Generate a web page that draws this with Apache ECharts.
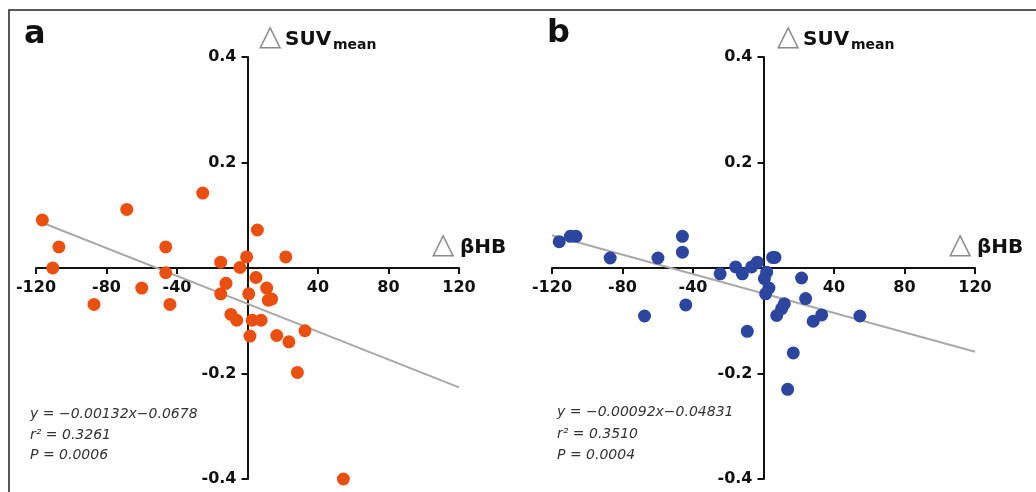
<!DOCTYPE html>
<html>
<head>
<meta charset="utf-8">
<script src="https://cdn.jsdelivr.net/npm/echarts@6/dist/echarts.min.js"></script>
<style>
html,body{margin:0;padding:0;background:#fff;}
#c{width:1036px;height:492px;}
</style>
</head>
<body>
<div id="c"></div>
<script>
// ---- data ----
const panelLabels = ['a', 'b'];
const xTickLabels = [-120, -80, -40, 40, 80, 120];
const yTickLabels = [-0.4, -0.2, 0.2, 0.4];
const yAxisTitle = ['△', 'SUV', 'mean'];
const xAxisTitle = ['△', 'βHB'];

// Panel a (orange): [ΔβHB, ΔSUVmean]
const pointsA = [
  [-116.4, 0.091], [-68.5, 0.111], [-25.4, 0.142], [-107.0, 0.040], [-110.5, 0.000],
  [-46.4, 0.040], [-46.4, -0.009], [-60.0, -0.038], [-87.1, -0.069], [-44.0, -0.069],
  [5.6, 0.072], [-0.5, 0.021], [21.7, 0.021], [-15.2, 0.011], [-4.3, 0.001],
  [4.8, -0.018], [-12.2, -0.029], [-15.2, -0.049], [0.7, -0.049], [10.9, -0.038],
  [11.8, -0.061], [13.7, -0.059], [-9.4, -0.088], [-6.1, -0.099], [2.7, -0.099],
  [7.7, -0.099], [1.4, -0.129], [16.6, -0.128], [23.5, -0.140], [32.6, -0.119],
  [28.3, -0.198], [54.4, -0.400]
];
// Panel b (blue)
const pointsB = [
  [-115.9, 0.050], [-109.6, 0.060], [-106.4, 0.060], [-87.0, 0.019], [-59.9, 0.019],
  [-46.0, 0.060], [-46.0, 0.030], [-24.6, -0.011], [-15.8, 0.002], [-12.0, -0.011],
  [-6.7, 0.002], [-3.5, 0.011], [5.2, 0.020], [6.5, 0.020], [1.8, -0.008],
  [0.5, -0.020], [3.1, -0.038], [1.2, -0.049], [21.6, -0.019], [23.9, -0.058],
  [11.8, -0.068], [10.3, -0.077], [7.5, -0.090], [28.2, -0.101], [33.0, -0.089],
  [54.7, -0.091], [-67.5, -0.091], [-44.1, -0.070], [-9.2, -0.120], [16.9, -0.161],
  [13.7, -0.230]
];
// Regression line end points (from printed equations)
const fitA = [[-120, 0.0906], [120, -0.2262]];
const fitB = [[-120, 0.0621], [120, -0.1587]];
const statsA = ['y = −0.00132x−0.0678', 'r² = 0.3261', 'P = 0.0006'];
const statsB = ['y = −0.00092x−0.04831', 'r² = 0.3510', 'P = 0.0004'];

// ---- chart ----
const chart = echarts.init(document.getElementById('c'));
const TF = 'DejaVu Sans';
const GW = 423, GH = 422;
const grids = [
  {left: 36, top: 57, width: GW, height: GH, containLabel: false, outerBoundsMode: 'none'},
  {left: 552, top: 57, width: GW, height: GH, containLabel: false, outerBoundsMode: 'none'}
];
function xAxisCfg(i) {
  return {
    type: 'value', gridIndex: i, min: -120, max: 120, interval: 40,
    position: 'bottom', offset: -GH / 2,
    splitLine: {show: false},
    axisLine: {onZero: false, lineStyle: {color: '#111', width: 2}},
    axisTick: {length: 6, lineStyle: {color: '#111', width: 2}},
    axisLabel: {
      margin: 12, fontFamily: TF, fontWeight: 'bold', fontSize: 16, color: '#111',
      hideOverlap: false,
      formatter: v => xTickLabels.includes(v) ? String(v) : ''
    }
  };
}
function yAxisCfg(i) {
  return {
    type: 'value', gridIndex: i, min: -0.4, max: 0.4, interval: 0.2,
    position: 'left', offset: -GW / 2,
    splitLine: {show: false},
    axisLine: {onZero: false, lineStyle: {color: '#111', width: 2}},
    axisTick: {length: 6, lineStyle: {color: '#111', width: 2}},
    axisLabel: {
      margin: 11, fontFamily: TF, fontWeight: 'bold', fontSize: 16, color: '#111',
      hideOverlap: false,
      formatter: v => {
        const r = Math.round(v * 10) / 10;
        return yTickLabels.includes(r) ? r.toFixed(1) : '';
      }
    }
  };
}
function txt(x, baseline, text, size, opts) {
  opts = opts || {};
  return {
    type: 'text', x: x, y: baseline - 0.35 * size, z: 100,
    style: {
      text: text, fill: opts.fill || '#111',
      font: (opts.italic ? 'italic ' : '') + (opts.bold ? 'bold ' : '') + size + 'px ' + (opts.family || TF),
      verticalAlign: 'middle', align: 'left'
    }
  };
}
const graphics = [
  {type: 'rect', shape: {x: 9, y: 10, width: 1060, height: 520}, style: {fill: 'none', stroke: '#222', lineWidth: 1.5}, z: 50},
  txt(24, 46, panelLabels[0], 32, {bold: true}),
  txt(547, 45, panelLabels[1], 32, {bold: true}),
];
[[259, 285, 333, 48], [777, 803, 851, 48]].forEach(p => {
  graphics.push(txt(p[0], p[3], yAxisTitle[0], 29, {fill: '#8a8a8a'}));
  graphics.push(txt(p[1], p[3] - 1, yAxisTitle[1], 20, {bold: true}));
  graphics.push(txt(p[2], p[3] + 2.5, yAxisTitle[2], 14, {bold: true}));
});
[[432, 460, 256], [949, 977, 256]].forEach(p => {
  graphics.push(txt(p[0], p[2], xAxisTitle[0], 29, {fill: '#8a8a8a'}));
  graphics.push(txt(p[1], p[2] - 1, xAxisTitle[1], 20, {bold: true}));
});
[[30, [419, 440, 460.5], statsA], [557, [417.5, 439, 460], statsB]].forEach(p => {
  p[2].forEach((s, k) => graphics.push(txt(p[0], p[1][k], s, 14, {italic: true, fill: '#333'})));
});

function fitSeries(i, data) {
  return {
    type: 'line', xAxisIndex: i, yAxisIndex: i, data: data, symbol: 'none', z: 1,
    lineStyle: {color: '#a9a9a9', width: 2}, silent: true
  };
}
function scatterSeries(i, data, color) {
  return {
    type: 'scatter', xAxisIndex: i, yAxisIndex: i, data: data, symbolSize: 13, z: 3,
    itemStyle: {color: color, opacity: 1}
  };
}
chart.setOption({
  animation: false,
  backgroundColor: '#fff',
  grid: grids,
  xAxis: [xAxisCfg(0), xAxisCfg(1)],
  yAxis: [yAxisCfg(0), yAxisCfg(1)],
  series: [
    fitSeries(0, fitA), scatterSeries(0, pointsA, '#EA4F10'),
    fitSeries(1, fitB), scatterSeries(1, pointsB, '#2C46A0')
  ],
  graphic: graphics
});
</script>
</body>
</html>
